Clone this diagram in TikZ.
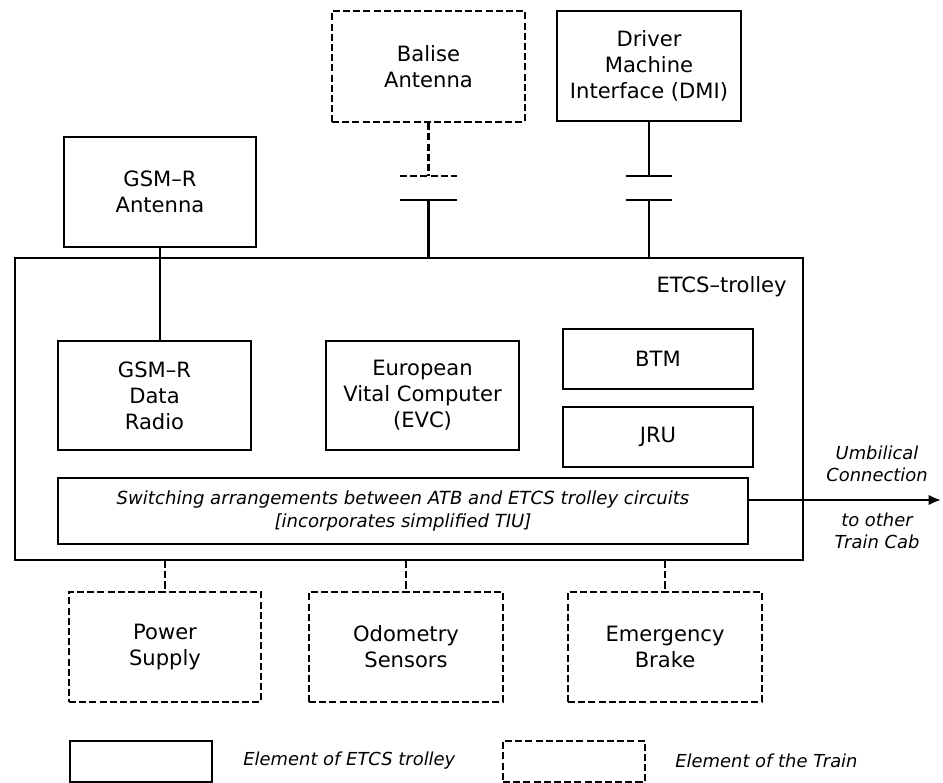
\documentclass[tikz,border=0pt]{standalone}
\usepackage{fontspec}
\setmainfont{DejaVu Sans}
\usetikzlibrary{arrows.meta}

\tikzset{
  trolleybox/.style={draw, line width=1.3pt, align=center, inner sep=0pt,
    font=\fontsize{12}{14.7}\selectfont},
  trainbox/.style={trolleybox, dash pattern=on 4pt off 1.8pt},
  link/.style={line width=1.3pt},
  trainlink/.style={link, dash pattern=on 4pt off 1.8pt},
  note/.style={font=\fontsize{10.2}{12.8}\selectfont\itshape, align=center, inner sep=0pt}
}

\begin{document}
\begin{tikzpicture}[x=0.02cm, y=-0.02cm]
	\useasboundingbox (0,0) rectangle (943,783);

	% outside the trolley
	\node[trainbox, minimum width=3.86cm, minimum height=2.22cm] (balise) at (428.5,66.5) {Balise\\Antenna};
	\node[trolleybox, minimum width=3.68cm, minimum height=2.2cm] (dmi) at (649,66) {Driver\\Machine\\Interface (DMI)};
	\node[trolleybox, minimum width=3.84cm, minimum height=2.2cm] (gsmant) at (160,192) {GSM–R\\Antenna};

	% the trolley and what it holds
	\node[draw, line width=1.3pt, inner sep=0pt, minimum width=15.76cm, minimum height=6.04cm] (trolley) at (409,409) {};
	\node[anchor=east, inner sep=0pt, font=\fontsize{12}{14.7}\selectfont] (trolleyname) at (787,287) {ETCS–trolley};

	\node[trolleybox, minimum width=3.86cm, minimum height=2.18cm] (radio) at (154.5,395.5) {GSM–R\\Data\\Radio};
	\node[trolleybox, minimum width=3.86cm, minimum height=2.18cm] (evc) at (422.5,395.5) {European\\Vital Computer\\(EVC)};
	\node[trolleybox, minimum width=3.8cm, minimum height=1.2cm] (btm) at (658,359) {BTM};
	\node[trolleybox, minimum width=3.8cm, minimum height=1.2cm] (jru) at (658,437) {JRU};
	\node[trolleybox, minimum width=13.8cm, minimum height=1.32cm, font=\fontsize{10.3}{13}\selectfont\itshape] (switch) at (403,511)
		{Switching arrangements between ATB and ETCS trolley circuits\\{[incorporates simplified TIU]}};

	% train side
	\node[trainbox, minimum width=3.84cm, minimum height=2.2cm] (power) at (165,647) {Power\\Supply};
	\node[trainbox, minimum width=3.88cm, minimum height=2.2cm] (odometry) at (406,647) {Odometry\\Sensors};
	\node[trainbox, minimum width=3.88cm, minimum height=2.2cm] (brake) at (665,647) {Emergency\\Brake};

	\node[note] (umbtop) at (877,464) {Umbilical\\Connection};
	\node[note] (umbbottom) at (877,531) {to other\\Train Cab};

	% key
	\node[trolleybox, minimum width=2.84cm, minimum height=0.82cm] (trolleykey) at (141,761.5) {};
	\node[note, anchor=west] (trolleykeytext) at (243,761) {Element of ETCS trolley};
	\node[trainbox, minimum width=2.84cm, minimum height=0.82cm] (trainkey) at (574,761.5) {};
	\node[note, anchor=west] (trainkeytext) at (675,761) {Element of the Train};

	% couplings
	\coordinate (balisecut) at (428.5,176);
	\coordinate (baliseplug) at (428.5,200);
	\coordinate (dmicut) at (649,176);
	\coordinate (dmiplug) at (649,200);
	\coordinate (umbend) at (941,500);

	\draw[trainlink] (balise.south) -- (balisecut);
	\draw[trainlink] ([xshift=-0.57cm]balisecut) -- ([xshift=0.57cm]balisecut);
	\draw[link] ([xshift=-0.57cm]baliseplug) -- ([xshift=0.57cm]baliseplug);
	\draw[link] (baliseplug) -- (baliseplug |- trolley.north);

	\draw[link] (dmi.south) -- (dmicut);
	\draw[link] ([xshift=-0.46cm]dmicut) -- ([xshift=0.46cm]dmicut);
	\draw[link] ([xshift=-0.46cm]dmiplug) -- ([xshift=0.46cm]dmiplug);
	\draw[link] (dmiplug) -- (dmiplug |- trolley.north);

	\draw[link] (gsmant.south) -- (gsmant.south |- radio.north);

	\draw[trainlink] (power.north |- trolley.south) -- (power.north);
	\draw[trainlink] (odometry.north |- trolley.south) -- (odometry.north);
	\draw[trainlink] (brake.north |- trolley.south) -- (brake.north);

	\draw[link, -{Latex[length=7pt, width=6pt]}] (switch.east |- umbend) -- (umbend);
\end{tikzpicture}
\end{document}
